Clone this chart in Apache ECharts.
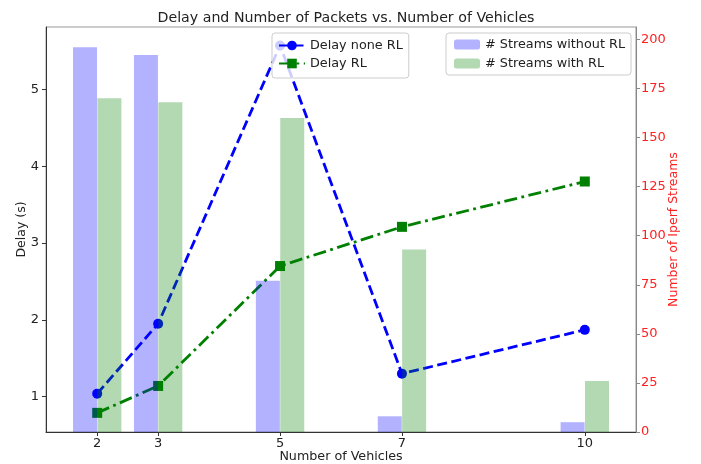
<!DOCTYPE html>
<html>
<head>
<meta charset="utf-8">
<script src="https://cdn.jsdelivr.net/npm/echarts@6/dist/echarts.min.js"></script>
<style>html,body{margin:0;padding:0;background:#fff}#c{width:701px;height:464px}</style>
</head>
<body>
<div id="c"></div>
<script>
var vehicles = [2, 3, 5, 7, 10];
var delayNoneRL = [1.04, 1.95, 5.57, 1.30, 1.87];
var delayRL = [0.79, 1.14, 2.70, 3.21, 3.80];
var streamsWithoutRL = [196, 192, 77, 8, 5];
var streamsWithRL = [170, 168, 160, 93, 26];
var leftTicks = [1, 2, 3, 4, 5];
var rightTicks = [0, 25, 50, 75, 100, 125, 150, 175, 200];

var font = 'DejaVu Sans';
var chart = echarts.init(document.getElementById('c'), null, {renderer: 'canvas'});

function pairs(xs, ys, off) {
  return xs.map(function (x, i) { return [x + off, ys[i]]; });
}

chart.setOption({
  animation: false,
  textStyle: {fontFamily: font},
  title: {
    text: 'Delay and Number of Packets vs. Number of Vehicles',
    left: 341, top: 6, textAlign: 'center',
    textStyle: {fontFamily: font, fontSize: 14.2, fontWeight: 'normal', color: '#222'}
  },
  grid: {left: 46, right: 65, top: 27, bottom: 32, outerBoundsMode: 'none', containLabel: false,
         show: true, borderColor: '#999', borderWidth: 1},
  legend: [
    {
      data: ['Delay none RL', 'Delay RL'],
      orient: 'vertical', left: 272, top: 33,
      itemWidth: 26, itemHeight: 12, itemGap: 5,
      padding: [6, 6, 8, 6],
      borderColor: '#ccc', borderWidth: 1, borderRadius: 3,
      backgroundColor: 'rgba(255,255,255,0.8)',
      textStyle: {fontFamily: font, fontSize: 12.8, color: '#222'}
    },
    {
      data: ['# Streams without RL', '# Streams with RL'],
      orient: 'vertical', left: 446, top: 33,
      itemWidth: 26, itemHeight: 10, itemGap: 6,
      padding: [5, 6, 5, 8],
      borderColor: '#ccc', borderWidth: 1, borderRadius: 3,
      backgroundColor: 'rgba(255,255,255,0.8)',
      textStyle: {fontFamily: font, fontSize: 12.8, color: '#222'}
    }
  ],
  xAxis: {
    type: 'value', min: 1.16, max: 10.84,
    name: 'Number of Vehicles', nameLocation: 'middle', nameGap: 18, nameMoveOverlap: false,
    nameTextStyle: {fontFamily: font, fontSize: 12.7, color: '#222'},
    axisLine: {show: true, lineStyle: {color: '#333', width: 1}},
    axisTick: {show: true, customValues: vehicles, length: 4, lineStyle: {color: '#333'}},
    axisLabel: {customValues: vehicles, fontFamily: font, fontSize: 13, color: '#222', margin: 5},
    splitLine: {show: false}
  },
  yAxis: [
    {
      type: 'value', min: 0.541, max: 5.81, position: 'left',
      name: 'Delay (s)', nameLocation: 'middle', nameGap: 18, nameRotate: 90, nameMoveOverlap: false,
      nameTextStyle: {fontFamily: font, fontSize: 12.5, color: '#222'},
      axisLine: {show: true, lineStyle: {color: '#333', width: 1}},
      axisTick: {show: true, customValues: leftTicks, length: 4, lineStyle: {color: '#333'}},
      axisLabel: {customValues: leftTicks, fontFamily: font, fontSize: 13, color: '#222', margin: 7},
      splitLine: {show: false}
    },
    {
      type: 'value', min: 0, max: 206.3, position: 'right',
      name: 'Number of Iperf Streams', nameLocation: 'middle', nameGap: 31, nameRotate: 90, nameMoveOverlap: false,
      nameTextStyle: {fontFamily: font, fontSize: 12.5, color: '#ff2020'},
      axisLine: {show: true, lineStyle: {color: '#888', width: 1}},
      axisTick: {show: true, customValues: rightTicks, length: 4, lineStyle: {color: '#888'}},
      axisLabel: {customValues: rightTicks, fontFamily: font, fontSize: 13, color: '#ff2020', margin: 5},
      splitLine: {show: false}
    }
  ],
  series: [
    {
      name: 'Delay none RL', type: 'line', yAxisIndex: 0, z: 2,
      data: pairs(vehicles, delayNoneRL, 0),
      symbol: 'circle', symbolSize: 10,
      itemStyle: {color: '#0000ff'},
      lineStyle: {color: '#0000ff', width: 2.8, type: [10, 4.5]}
    },
    {
      name: 'Delay RL', type: 'line', yAxisIndex: 0, z: 2,
      data: pairs(vehicles, delayRL, 0),
      symbol: 'rect', symbolSize: 10,
      itemStyle: {color: '#008000'},
      lineStyle: {color: '#008000', width: 2.8, type: [13, 4.5, 2.8, 4.5]}
    },
    {
      name: '# Streams without RL', type: 'bar', yAxisIndex: 1, z: 3,
      data: pairs(vehicles, streamsWithoutRL, -0.2),
      barWidth: 24, barGap: '-100%',
      itemStyle: {color: '#0000ff', opacity: 0.3}
    },
    {
      name: '# Streams with RL', type: 'bar', yAxisIndex: 1, z: 3,
      data: pairs(vehicles, streamsWithRL, 0.2),
      barWidth: 24, barGap: '-100%',
      itemStyle: {color: '#008000', opacity: 0.3}
    }
  ]
});
</script>
</body>
</html>
